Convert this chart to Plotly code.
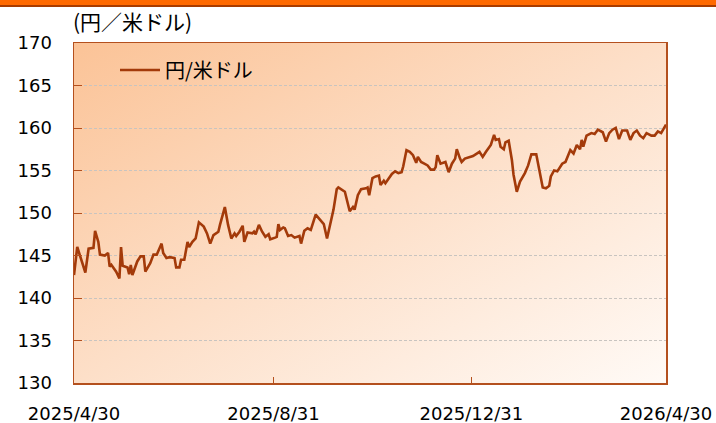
import base64
import plotly.graph_objects as go

dates = [
    "2025-04-30", "2025-05-02", "2025-05-07", "2025-05-09", "2025-05-12", "2025-05-13", "2025-05-15",
    "2025-05-16", "2025-05-19", "2025-05-21", "2025-05-22", "2025-05-23", "2025-05-26", "2025-05-28",
    "2025-05-29", "2025-05-30", "2025-06-02", "2025-06-03", "2025-06-04", "2025-06-05", "2025-06-08",
    "2025-06-10", "2025-06-12", "2025-06-13", "2025-06-16", "2025-06-18", "2025-06-20", "2025-06-21",
    "2025-06-23", "2025-06-24", "2025-06-26", "2025-06-28", "2025-07-01", "2025-07-02", "2025-07-04",
    "2025-07-05", "2025-07-07", "2025-07-09", "2025-07-10", "2025-07-12", "2025-07-14", "2025-07-16",
    "2025-07-19", "2025-07-21", "2025-07-23", "2025-07-25", "2025-07-28", "2025-07-29", "2025-08-01",
    "2025-08-03", "2025-08-05", "2025-08-07", "2025-08-08", "2025-08-10", "2025-08-12", "2025-08-13",
    "2025-08-15", "2025-08-18", "2025-08-19", "2025-08-20", "2025-08-22", "2025-08-24", "2025-08-26",
    "2025-08-28", "2025-08-29", "2025-09-01", "2025-09-02", "2025-09-03", "2025-09-04", "2025-09-06",
    "2025-09-07", "2025-09-09", "2025-09-11", "2025-09-13", "2025-09-16", "2025-09-17", "2025-09-19",
    "2025-09-21", "2025-09-23", "2025-09-26", "2025-09-28", "2025-10-01", "2025-10-03", "2025-10-05",
    "2025-10-07", "2025-10-09", "2025-10-10", "2025-10-14", "2025-10-17", "2025-10-19", "2025-10-20",
    "2025-10-22", "2025-10-24", "2025-10-27", "2025-10-28", "2025-10-29", "2025-10-31", "2025-11-02",
    "2025-11-04", "2025-11-05", "2025-11-07", "2025-11-08", "2025-11-10", "2025-11-12", "2025-11-14",
    "2025-11-16", "2025-11-18", "2025-11-19", "2025-11-21", "2025-11-23", "2025-11-25", "2025-11-27",
    "2025-11-28", "2025-11-30", "2025-12-02", "2025-12-04", "2025-12-06", "2025-12-08", "2025-12-09",
    "2025-12-10", "2025-12-12", "2025-12-14", "2025-12-15", "2025-12-17", "2025-12-19", "2025-12-21",
    "2025-12-22", "2025-12-24", "2025-12-25", "2025-12-27", "2025-12-30", "2026-01-01", "2026-01-05",
    "2026-01-07", "2026-01-09", "2026-01-12", "2026-01-14", "2026-01-15", "2026-01-17", "2026-01-18",
    "2026-01-20", "2026-01-21", "2026-01-23", "2026-01-25", "2026-01-26", "2026-01-28", "2026-01-30",
    "2026-02-02", "2026-02-04", "2026-02-06", "2026-02-09", "2026-02-11", "2026-02-13", "2026-02-15",
    "2026-02-17", "2026-02-18", "2026-02-20", "2026-02-22", "2026-02-25", "2026-02-27", "2026-02-28",
    "2026-03-02", "2026-03-04", "2026-03-06", "2026-03-08", "2026-03-09", "2026-03-10", "2026-03-12",
    "2026-03-15", "2026-03-17", "2026-03-19", "2026-03-22", "2026-03-24", "2026-03-26", "2026-03-28",
    "2026-03-30", "2026-04-01", "2026-04-03", "2026-04-06", "2026-04-08", "2026-04-10", "2026-04-12",
    "2026-04-14", "2026-04-16", "2026-04-18", "2026-04-21", "2026-04-23", "2026-04-25", "2026-04-27",
    "2026-04-30",
]

usdjpy = [
    142.7, 146.0, 143.0, 145.8, 145.9, 147.9, 146.6,
    145.1, 145.0, 145.3, 143.7, 143.9, 143.1, 142.3,
    146.0, 143.8, 143.6, 142.8, 143.9, 142.7, 144.3,
    144.9, 144.9, 143.1, 144.1, 145.1, 145.1, 145.6,
    146.4, 145.3, 144.7, 144.8, 144.7, 143.6, 143.6,
    144.5, 144.5, 146.6, 146.0, 146.6, 147.0, 148.9,
    148.4, 147.6, 146.4, 147.4, 147.8, 148.6, 150.7,
    148.6, 147.0, 147.6, 147.3, 147.8, 148.5, 146.6,
    147.7, 147.6, 147.8, 147.5, 148.6, 147.8, 147.2,
    147.5, 146.9, 147.1, 147.2, 148.7, 148.0, 148.3,
    148.2, 147.3, 147.4, 147.1, 147.3, 146.4, 147.9,
    148.2, 148.0, 149.8, 149.4, 148.7, 147.0, 148.6,
    150.4, 152.8, 153.0, 152.5, 150.2, 150.7, 150.4,
    152.1, 152.8, 152.9, 153.0, 152.1, 154.1, 154.3,
    154.4, 153.3, 153.8, 153.5, 154.1, 154.6, 154.9,
    154.7, 154.8, 155.5, 157.4, 157.2, 156.8, 155.9,
    156.6, 156.0, 155.8, 155.6, 155.1, 155.1, 155.4,
    156.8, 155.8, 155.9, 156.0, 154.8, 155.8, 156.4,
    157.5, 156.4, 156.0, 156.4, 156.6, 156.7, 157.2,
    156.6, 157.2, 158.0, 159.2, 158.6, 158.7, 157.8,
    157.5, 158.3, 158.5, 156.2, 154.5, 152.5, 153.7,
    154.7, 155.6, 156.9, 156.9, 155.1, 153.0, 152.9,
    153.2, 154.3, 155.0, 154.9, 155.8, 156.0, 156.5,
    157.4, 157.0, 158.0, 157.5, 158.6, 157.8, 159.1,
    159.4, 159.3, 159.8, 159.5, 158.4, 159.4, 159.8,
    160.0, 158.7, 159.7, 159.7, 158.6, 159.4, 159.7,
    159.1, 158.8, 159.4, 159.1, 159.1, 159.6, 159.4,
    160.4,
]

series_name = "円/米ドル"
y_unit = "(円／米ドル)"
x_tick_vals = ["2025-04-30", "2025-08-31", "2025-12-31", "2026-04-30"]
x_tick_text = ["2025/4/30", "2025/8/31", "2025/12/31", "2026/4/30"]

LINE = "#A33A0A"
FRAME = "#B4501E"
FONT = "DejaVu Sans, Noto Sans CJK JP, sans-serif"
JFONT = "Noto Sans CJK JP, DejaVu Sans, sans-serif"

PH = 340.0  # plot height in px (for paper offsets)
PW = 592.0

svg = (
    '<svg xmlns="http://www.w3.org/2000/svg" width="100" height="100" preserveAspectRatio="none">'
    '<defs><linearGradient id="g" x1="0" y1="0" x2="1" y2="1">'
    '<stop offset="0" stop-color="#FBC397"/>'
    '<stop offset="0.5" stop-color="#FDDFC8"/>'
    '<stop offset="1" stop-color="#FFFAF6"/>'
    '</linearGradient></defs>'
    '<rect width="100" height="100" fill="url(#g)"/></svg>'
)
bg_uri = "data:image/svg+xml;base64," + base64.b64encode(svg.encode()).decode()

fig = go.Figure()
fig.add_trace(go.Scatter(
    x=dates, y=usdjpy, mode="lines", name=series_name,
    line=dict(color=LINE, width=2.6), showlegend=False,
))

fig.update_layout(
    width=716, height=423,
    margin=dict(l=74, r=50, t=43, b=40, autoexpand=False),
    paper_bgcolor="white",
    plot_bgcolor="rgba(0,0,0,0)",
    font=dict(family=FONT, size=17, color="black"),
    showlegend=False,
    images=[dict(
        source=bg_uri, xref="paper", yref="paper", x=0, y=1,
        sizex=1, sizey=1, xanchor="left", yanchor="top",
        sizing="stretch", layer="below",
    )],
    shapes=[
        dict(type="rect", xref="paper", yref="paper", x0=-0.2, x1=1.2,
             y0=1.0 + 36 / PH, y1=1.2, fillcolor="#FF6A00", line=dict(width=0)),
        dict(type="rect", xref="paper", yref="paper", x0=-0.2, x1=1.2,
             y0=1.0 + 36 / PH, y1=1.0 + 38 / PH, fillcolor="#A83C00", line=dict(width=0)),
        # legend sample line
        dict(type="line", xref="paper", yref="paper",
             x0=46 / PW, x1=86 / PW, y0=1 - 27 / PH, y1=1 - 27 / PH,
             line=dict(color=LINE, width=2.6)),
    ],
    annotations=[
        dict(text=y_unit, xref="paper", yref="paper", x=-3 / PW, y=1.0 + 22 / PH,
             xanchor="left", yanchor="middle", showarrow=False,
             font=dict(size=21, color="black", family=JFONT)),
        dict(text=series_name, xref="paper", yref="paper", x=89 / PW, y=1 - 27 / PH,
             xanchor="left", yanchor="middle", showarrow=False,
             font=dict(size=20, color="black", family=JFONT)),
    ],
)

fig.update_xaxes(
    type="date", range=["2025-04-30", "2026-04-30"],
    tickmode="array", tickvals=x_tick_vals, ticktext=x_tick_text,
    ticks="inside", ticklen=6, tickcolor=FRAME, tickwidth=1,
    showgrid=False, zeroline=False, automargin=False,
    showline=True, linecolor=FRAME, linewidth=1.5, mirror=True,
    ticklabelstandoff=14, tickfont=dict(size=18),
)
fig.update_yaxes(
    range=[130, 170], tick0=130, dtick=5,
    ticks="inside", ticklen=8, tickcolor=FRAME, tickwidth=1,
    showgrid=True, gridcolor="#C8C4C0", gridwidth=1, griddash="3px,2px",
    zeroline=False, automargin=False,
    showline=True, linecolor=FRAME, linewidth=1.5, mirror=True,
    ticklabelstandoff=17, tickfont=dict(size=18),
)

fig.write_html(
    "out.html",
    config={"displayModeBar": False, "staticPlot": True},
    post_script="document.body.style.margin='0';document.body.style.overflow='hidden';",
)
